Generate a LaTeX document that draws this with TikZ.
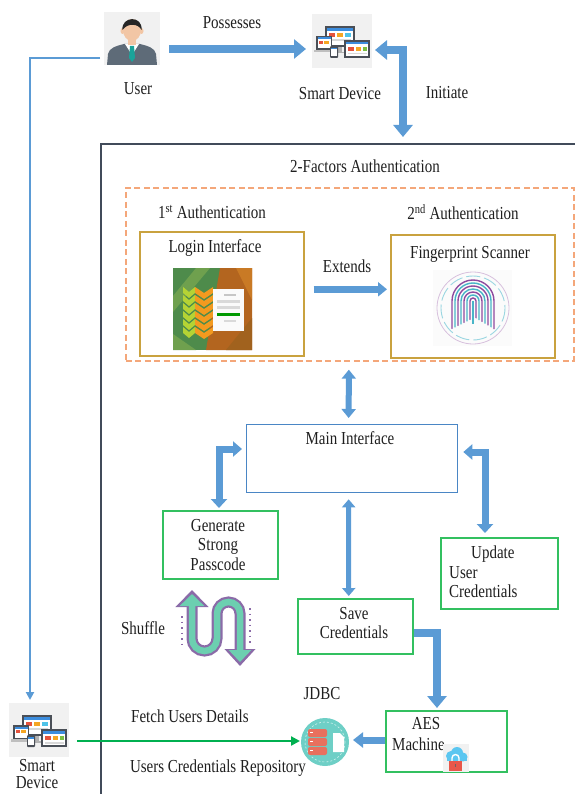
\documentclass[tikz,border=0pt]{standalone}
\usepackage{fontspec}
\setmainfont{Liberation Serif}[FakeStretch=0.82]
\usetikzlibrary{arrows.meta,calc}

\definecolor{flowblue}{HTML}{5B9BD5}
\definecolor{framegray}{HTML}{414B5A}
\definecolor{dashorange}{HTML}{F4A77A}
\definecolor{goldline}{HTML}{C9A23F}
\definecolor{mainblue}{HTML}{4A86C5}
\definecolor{boxgreen}{HTML}{33C060}
\definecolor{linkgreen}{HTML}{00B050}
\definecolor{iconbg}{HTML}{F1F1F1}
\definecolor{devdark}{HTML}{4A4F57}
\definecolor{devblue}{HTML}{3C8DDE}
\definecolor{devred}{HTML}{E5533D}
\definecolor{devorange}{HTML}{F5A623}
\definecolor{devcyan}{HTML}{4FC3E8}
\definecolor{devgreen}{HTML}{7BC043}
\definecolor{skin}{HTML}{F2C6A5}
\definecolor{suitgray}{HTML}{5E6B78}
\definecolor{tieteal}{HTML}{1AA39A}
\definecolor{fpurple}{HTML}{8E4A9E}
\definecolor{fcyan}{HTML}{48B5C8}
\definecolor{dbteal}{HTML}{6ECFC6}
\definecolor{dbcoral}{HTML}{E8705E}
\definecolor{shufpurple}{HTML}{8B6BA8}
\definecolor{shufteal}{HTML}{6CCFB0}
\definecolor{cloudblue}{HTML}{5BC6F0}
\definecolor{lockred}{HTML}{E8574A}
\definecolor{leafdark}{HTML}{4E8B4B}
\definecolor{leaflight}{HTML}{6FA04E}
\definecolor{barkbrown}{HTML}{B3651F}
\definecolor{barkorange}{HTML}{C97A25}
\definecolor{chevlime}{HTML}{B5D334}
\definecolor{chevorange}{HTML}{F39A1F}

% devices group: monitor, laptop, tablet and phone around the origin
\newcommand\devicesicon[1]{%
  \begin{scope}[shift={#1}]
    \fill[iconbg] (-30,-27) rectangle (30,27);
    % monitor
    \fill[devdark] (-17,-15) rectangle (13,6);
    \fill[white] (-15,-13) rectangle (11,4);
    \fill[devblue] (-15,-13) rectangle (11,-10);
    \fill[devred] (-13,-8) rectangle (-7,-4);
    \fill[devorange] (-5,-8) rectangle (1,-4);
    \fill[devcyan] (3,-8) rectangle (9,-4);
    \fill[gray!30] (-13,-2) rectangle (9,0);
    \fill[gray!60] (-4,6) rectangle (0,11);
    \fill[gray!60] (-8,11) rectangle (4,12.5);
    % laptop
    \fill[devdark] (-26,-5) rectangle (-10,9);
    \fill[white] (-24.5,-3.5) rectangle (-11.5,7.5);
    \fill[devblue] (-24.5,-3.5) rectangle (-11.5,-1.5);
    \fill[devred] (-23,0) rectangle (-19,3);
    \fill[devorange] (-18,0) rectangle (-13,3);
    \fill[gray!50] (-28,9) rectangle (-8,11.5);
    % tablet
    \fill[devdark] (2,-1) rectangle (28,17);
    \fill[white] (4,1) rectangle (26,15);
    \fill[devblue] (4,1) rectangle (26,3.5);
    \fill[devred] (6,6) rectangle (12,10);
    \fill[devorange] (14,6) rectangle (19,10);
    \fill[devgreen] (21,6) rectangle (25,10);
    \fill[gray!30] (6,12) rectangle (25,13.5);
    % phone
    \fill[devdark, rounded corners=1pt] (-12,5) rectangle (-4,17);
    \fill[white] (-11,7) rectangle (-5,15);
    \fill[devblue] (-11,7) rectangle (-5,8.5);
  \end{scope}}

\begin{document}
\begin{tikzpicture}[x=1pt, y=-1pt,
  txt/.style={font=\fontsize{18.3}{19.5}\selectfont, inner sep=0pt, text=black!88, align=center},
  fatarrow/.style={draw=flowblue, line width=8pt, -{Triangle[length=12pt,width=19pt]}},
  fatboth/.style={draw=flowblue, line width=8pt, {Triangle[length=12pt,width=19pt]}-{Triangle[length=12pt,width=19pt]}},
  elbowboth/.style={draw=flowblue, line width=7pt, {Triangle[length=9pt,width=15pt]}-{Triangle[length=9pt,width=16pt]}},
  midarrow/.style={draw=flowblue, line width=6.5pt, -{Triangle[length=9pt,width=14pt]}},
  midboth/.style={draw=flowblue, line width=6pt, {Triangle[length=9pt,width=14pt]}-{Triangle[length=9pt,width=14pt]}},
  slimboth/.style={draw=flowblue, line width=5pt, {Triangle[length=8pt,width=13pt]}-{Triangle[length=8pt,width=13pt]}},
  shortarrow/.style={draw=flowblue, line width=7pt, -{Triangle[length=10pt,width=15pt]}},
  thinblue/.style={draw=flowblue, line width=2.2pt, -{Triangle[length=8pt,width=8pt]}},
  greenlink/.style={draw=linkgreen, line width=2.2pt, -{Triangle[length=9pt,width=9pt]}},
  holder/.style={inner sep=0pt, outer sep=0pt},
  goldbox/.style={draw=goldline, line width=1.6pt, inner sep=0pt, anchor=north west},
  greenbox/.style={draw=boxgreen, line width=1.5pt, inner sep=0pt, anchor=north west},
]
\useasboundingbox (0,0) rectangle (574,794);

% ---------- outer frame and the two-factor group ----------
\node (frame) [draw=framegray, line width=2.4pt, minimum width=540pt, minimum height=720pt, anchor=north west, inner sep=0pt] at (100,143) {};
\node (twofa) [draw=dashorange, line width=1.7pt, dash pattern=on 6pt off 3.5pt, minimum width=448pt, minimum height=173pt, anchor=north west, inner sep=0pt] at (125,187) {};

% ---------- boxes ----------
\node (login) [goldbox, minimum width=164pt, minimum height=124pt] at (139,231) {};
\node (fp) [goldbox, minimum width=164pt, minimum height=123pt] at (390,234) {};
\node (main) [draw=mainblue, line width=1.3pt, inner sep=0pt, anchor=north west, minimum width=211pt, minimum height=68pt] at (246,424) {};
\node (gen) [greenbox, minimum width=115pt, minimum height=68pt] at (162,510) {};
\node (upd) [greenbox, minimum width=117pt, minimum height=71pt] at (440,537) {};
\node (save) [greenbox, minimum width=115pt, minimum height=55pt] at (297,598) {};
\node (aes) [greenbox, minimum width=121pt, minimum height=61pt] at (385,710) {};

% ---------- icon holders ----------
\node (user) [holder, minimum width=56pt, minimum height=53pt] at (132,38) {};
\node (dev) [holder, minimum width=60pt, minimum height=55pt] at (342,41) {};
\node (devB) [holder, minimum width=62pt, minimum height=50pt] at (39,730) {};
\node (db) [holder, circle, minimum size=48pt] at (325,742) {};

% user figure
\begin{scope}[shift={(132,38)}]
  \fill[iconbg] (-28,-26) rectangle (28,27);
  \fill[suitgray] (-25,27) -- (-24,16) .. controls (-23,10) and (-16,8) .. (-8,6) -- (8,6) .. controls (16,8) and (23,10) .. (24,16) -- (25,27) -- cycle;
  \fill[white] (-7,6) -- (0,17) -- (7,6) -- cycle;
  \fill[tieteal] (-2,8) -- (2,8) -- (3,20) -- (0,24) -- (-3,20) -- cycle;
  \fill[skin] (-4,-1) rectangle (4,7);
  \fill[skin] (0,-8) ellipse [x radius=9, y radius=11];
  \fill[skin] (-9.5,-7) ellipse [x radius=2, y radius=3];
  \fill[skin] (9.5,-7) ellipse [x radius=2, y radius=3];
  \fill[black!85] (-9.5,-8) .. controls (-11,-22) and (11,-23) .. (9.5,-8) .. controls (7,-14) and (-4,-16) .. (-9.5,-8) -- cycle;
\end{scope}

\devicesicon{(342,41)}
\devicesicon{(39,730)}

% login screen picture
\begin{scope}
  \clip (173,268) rectangle (252,350);
  \fill[leafdark] (173,268) rectangle (252,350);
  \fill[leaflight] (173,296) -- (196,268) -- (210,268) -- (173,312) -- cycle;
  \fill[barkbrown] (220,268) -- (252,268) -- (252,350) -- (206,350) -- cycle;
  \fill[barkorange] (236,268) -- (252,268) -- (252,300) -- cycle;
  \fill[barkorange!80!black] (252,318) -- (252,350) -- (226,350) -- cycle;
  \fill[leaflight] (173,334) -- (196,350) -- (173,350) -- cycle;
  \foreach \k in {0,...,5}{
    \pgfmathsetmacro\yy{287+\k*8}
    \fill[chevlime] (183,\yy) -- (189,\yy+5) -- (195,\yy) -- (195,\yy+6) -- (189,\yy+11) -- (183,\yy+6) -- cycle;
    \fill[chevorange] (195,\yy) -- (204,\yy+6) -- (213,\yy) -- (213,\yy+6) -- (204,\yy+12) -- (195,\yy+6) -- cycle;
  }
  \fill[white!96!gray] (213,289) rectangle (244,331);
  \fill[gray!45] (224,294) rectangle (236,296);
  \fill[gray!30] (217,300) rectangle (240,303);
  \fill[gray!30] (217,306) rectangle (240,309);
  \fill[green!60!black] (217,313) rectangle (240,316);
  \fill[gray!30] (224,320) rectangle (236,321.5);
\end{scope}

% fingerprint picture
\begin{scope}
  \fill[white!97!gray] (433,270) rectangle (512,346);
  \draw[fpurple!35, line width=0.8pt] (473,308) circle (36);
  \draw[fcyan!55, line width=0.9pt, dash pattern=on 14pt off 4pt] (473,308) circle (32);
  \foreach \r/\c in {3/fpurple,6/fcyan,9/fpurple,12/fcyan,15/fpurple,18/fcyan,21/fpurple}{
    \draw[\c, line width=1.4pt, line cap=round] (473-\r,318+\r*0.5) -- (473-\r,301) arc[start angle=180, end angle=360, radius=\r] -- (473+\r,316+\r*0.6);
  }
  \draw[fcyan, line width=1.4pt] (473,301) -- (473,324);
\end{scope}

% database icon
\fill[dbteal] (325,742) circle (24);
\draw[white!70!dbteal, line width=0.6pt, dash pattern=on 2pt off 2pt] (325,742) circle (20);
\foreach \k in {0,1,2}{
  \fill[dbcoral, rounded corners=2pt] (308,729+\k*9) rectangle (327,737+\k*9);
  \fill[white] (310,732+\k*9) rectangle (313,733+\k*9);
}
\fill[white] (333,733) -- (340,733) -- (344,737) -- (344,752) -- (333,752) -- cycle;

% shuffle symbol: teal stroke with a purple rim
\begin{scope}[line cap=butt]
  \draw[shufpurple, line width=11pt, {Triangle[length=17pt,width=32pt]}-{Triangle[length=17pt,width=30pt]}]
    (192,590) -- (192,638.5) arc[start angle=180, end angle=0, radius=12.5] -- (217,613.5) arc[start angle=180, end angle=360, radius=11.5] -- (240,666);
  \draw[shufteal, line width=6.5pt, {Triangle[length=12pt,width=24pt]}-{Triangle[length=12pt,width=22pt]}]
    (192,594) -- (192,638.5) arc[start angle=180, end angle=0, radius=12.5] -- (217,613.5) arc[start angle=180, end angle=360, radius=11.5] -- (240,662);
  \draw[shufpurple, line width=2pt, dash pattern=on 1.5pt off 4pt] (182,616) -- (182,648);
  \draw[shufpurple, line width=2pt, dash pattern=on 1.5pt off 4pt] (250,608) -- (250,645);
\end{scope}

% ---------- texts ----------
\node (posslbl) [txt] at (232,23) {Possesses};
\node (userlbl) [txt] at (138,89) {User};
\node (devlbl) [txt] at (340,94) {Smart Device};
\node (initlbl) [txt] at (447,93) {Initiate};
\node (title) [txt] at (365,166) {2-Factors Authentication};
\node (auth1) [txt] at (212,212) {1\textsuperscript{st} Authentication};
\node (auth2) [txt] at (463,212) {2\textsuperscript{nd} Authentication};
\node (loginlbl) [txt] at (215,248) {Login Interface};
\node (extlbl) [txt] at (347,266) {Extends};
\node (fplbl) [txt] at (470,254) {Fingerprint Scanner};
\node (mainlbl) [txt] at (350,438) {Main Interface};
\node (genlbl) [txt] at (218,545) {Generate\\Strong\\Passcode};
\node (updlbl) [txt, align=left, anchor=west] at (449,572) {\hspace*{22pt}Update\\User\\Credentials};
\node (savelbl) [txt] at (354,623) {Save\\Credentials};
\node (shufflelbl) [txt] at (143,628) {Shuffle};
\node (jdbclbl) [txt] at (322,694) {JDBC};
\node (aeslbl) [txt] at (426,724) {AES};
\node (machlbl) [txt, anchor=west] at (392,744) {Machine};
\node (fetchlbl) [txt] at (190,716) {Fetch Users Details};
\node (repolbl) [txt] at (218,768) {Users Credentials Repository};
\node (smartlbl) [txt, font=\fontsize{18.3}{17.5}\selectfont] at (37,774) {Smart\\Device};

% cloud lock icon, sitting over the end of the AES label
\begin{scope}
  \fill[iconbg] (443,744) rectangle (469,772);
  \fill[cloudblue] (451,756) circle (5);
  \fill[cloudblue] (457,753) circle (6);
  \fill[cloudblue] (463,757) circle (4.5);
  \fill[cloudblue] (447,756) rectangle (467,761);
  \draw[white, line width=1.4pt] (452,762) -- (452,758) arc[start angle=180, end angle=360, radius=3.5] -- (459,762);
  \fill[lockred] (449,761) rectangle (462,771);
  \fill[black!60] (455,764) rectangle (456.2,767);
\end{scope}

% ---------- connectors ----------
\draw[fatarrow] ([shift={(9,11)}]user.east) -- ([shift={(-6,8)}]dev.west);
\draw[fatboth] ([shift={(3,9)}]dev.east) -| ([shift={(303,-6)}]frame.north west);
\draw[thinblue] ([shift={(0,-85)}]frame.north west) -| ([shift={(-9,-5)}]devB.north);
\draw[midarrow] ([shift={(9,-4.5)}]login.east) -- ([shift={(-3,-7)}]fp.west);
\draw[midboth] ([shift={(-1,8)}]twofa.south) -- ([shift={(-3.5,-6)}]main.north);
\draw[elbowboth] ([shift={(-4,25)}]main.north west) -| ([shift={(57,-2)}]gen.north west);
\draw[elbowboth] ([shift={(5,28)}]main.north east) -| ([shift={(45,-4)}]upd.north west);
\draw[slimboth] ([shift={(-3.5,6)}]main.south) -- ([shift={(-6.5,-2)}]save.north);
\draw[fatarrow] ([shift={(0,35)}]save.north east) -| ([shift={(52,-2)}]aes.north west);
\draw[shortarrow] ([shift={(0,30)}]aes.north west) -- ([shift={(4,-2)}]db.east);
\draw[greenlink] ([shift={(7,11)}]devB.east) -- ([shift={(-1,-1)}]db.west);
\end{tikzpicture}
\end{document}
